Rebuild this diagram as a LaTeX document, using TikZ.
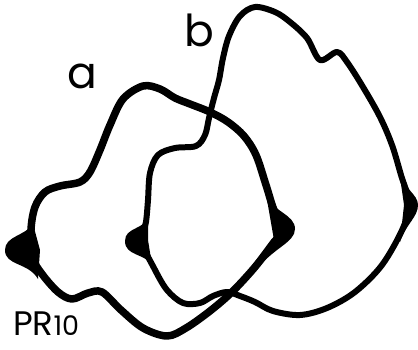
\documentclass[tikz,border=0pt]{standalone}
\usepackage{fontspec}
\newfontfamily\handfont{Poppins}
\begin{document}
\begin{tikzpicture}[x=1pt,y=-1pt,
  blob/.style={line width=7.5pt, line join=round, line cap=round},
  cusp/.style={fill=black, draw=none},
  lbl/.style={font=\fontsize{44}{44}\selectfont\handfont, inner sep=0pt}]
\useasboundingbox (0,0) rectangle (418,349);
% curve a
\draw[blob] plot[smooth cycle, tension=0.55] coordinates {
 (143,86) (123,99) (110,125) (100,150) (90,172) (80,182) (60,186) (45,192)
 (35,207) (31,230) (33,258) (42,274) (58,292) (72,299) (88,293) (102,292)
 (121,310) (143,328) (167,336) (186,328) (210,311) (232,292) (255,267)
 (274,242) (284,229) (274,210) (266,185) (256,155) (244,136) (228,122)
 (210,112) (190,104) (175,98) (160,89)};
% curve b
\draw[blob, line width=6pt] plot[smooth cycle, tension=0.55] coordinates {
 (255,7) (275,12) (290,22) (307,38) (320,60) (337,52) (347,62) (363,87)
 (380,117) (392,145) (401,175) (409,203) (403,228) (382,265) (355,292)
 (327,308) (300,315) (273,311) (255,302) (240,296) (227,292) (213,296)
 (200,303) (183,303) (167,290) (154,268) (142,242) (146,222) (148,200)
 (150,173) (158,155) (175,148) (196,146) (205,135) (209,118) (214,98)
 (219,80) (223,58) (229,36) (240,16)};
% cusps
\fill[cusp] (33,224) .. controls (25,236) and (5,236) .. (5,250)
  .. controls (5,266) and (28,262) .. (38,279) -- (40,250) -- cycle;
\fill[cusp] (148,217) .. controls (144,230) and (125,227) .. (125,241)
  .. controls (125,256) and (144,253) .. (152,265) -- (148,240) -- cycle;
\fill[cusp] (266,194) .. controls (272,212) and (295,214) .. (295,229)
  .. controls (295,243) and (272,248) .. (256,271) -- (274,240) -- cycle;
\fill[cusp] (399,170) .. controls (404,190) and (418,194) .. (418,205)
  .. controls (418,217) and (406,224) .. (400,242) -- (404,205) -- cycle;
% labels
\node[lbl] (la) at (82,76) {a};
\node[lbl] (lb) at (199,30) {b};
\node[lbl, anchor=base west, font=\fontsize{34}{34}\selectfont\handfont] (pr) at (13,335) {PR{\fontsize{27}{27}\selectfont 10}};
\end{tikzpicture}
\end{document}
